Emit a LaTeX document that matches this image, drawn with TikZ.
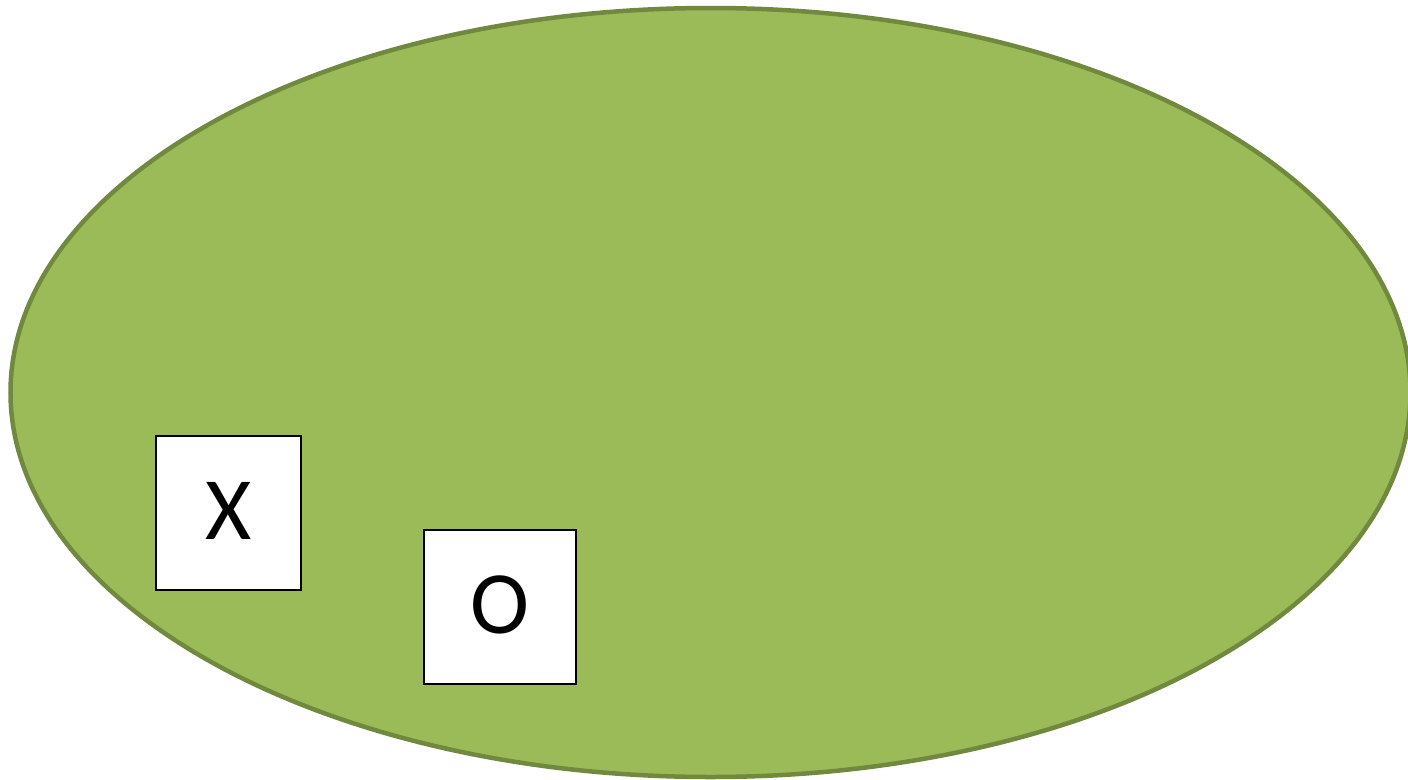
\documentclass[tikz,border=0pt]{standalone}
\usepackage{fontspec}
\setmainfont{Carlito}
\usetikzlibrary{shapes.geometric}
\definecolor{olivefill}{HTML}{9BBB59}
\definecolor{oliveline}{HTML}{71893F}
\begin{document}
\begin{tikzpicture}[x=1pt,y=-1pt,
  cell/.style={draw=black,line width=1.5pt,fill=white,inner sep=0pt,
    font=\fontsize{89}{89}\selectfont}]
\useasboundingbox (0,0) rectangle (1408,779);
\draw[fill=olivefill,draw=oliveline,line width=4.5pt] (710.5,392.5) ellipse [x radius=700, y radius=384.5];
\node[cell,minimum width=145pt,minimum height=154pt] (x) at (228.5,513) {\raisebox{5pt}{X}};
\node[cell,minimum width=152pt,minimum height=154pt] (o) at (500,607) {\raisebox{5pt}{O}};
\end{tikzpicture}
\end{document}
